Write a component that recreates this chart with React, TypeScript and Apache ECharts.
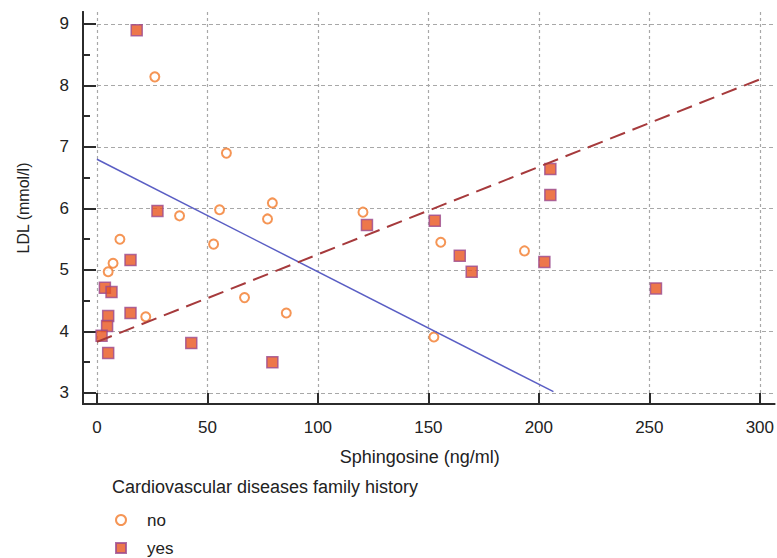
import React, { useEffect, useRef } from "react";
import * as echarts from "echarts";

// Sphingosine (ng/ml), LDL (mmol/l)
const noX = [26.2, 58.6, 10.4, 7.3, 5.1, 37.4, 55.5, 52.8, 22.1, 66.8, 79.4, 77.2, 85.7, 120.4, 155.6, 152.5, 193.5];
const noY = [8.14, 6.9, 5.5, 5.11, 4.97, 5.88, 5.98, 5.42, 4.24, 4.55, 6.09, 5.83, 4.3, 5.94, 5.45, 3.91, 5.31];

const yesX = [18.0, 27.4, 15.2, 3.6, 6.6, 15.2, 5.1, 4.6, 2.1, 5.1, 42.7, 79.4, 122.2, 152.9, 164.2, 169.6, 205.2, 205.2, 202.5, 253.0];
const yesY = [8.9, 5.96, 5.16, 4.71, 4.64, 4.3, 4.25, 4.09, 3.93, 3.65, 3.81, 3.5, 5.73, 5.8, 5.23, 4.97, 6.64, 6.22, 5.13, 4.7];

// regression lines (end points)
const noFitX = [0, 206.6];
const noFitY = [6.8, 3.02];
const yesFitX = [0, 300];
const yesFitY = [3.83, 8.1];

const xTicks = [0, 50, 100, 150, 200, 250, 300];
const yTicks = [3, 4, 5, 6, 7, 8, 9];
const yMinorTicks = [3.5, 4.5, 5.5, 6.5, 7.5, 8.5];

const categories = ["no", "yes"];
const legendTitle = "Cardiovascular diseases family history";
const xName = "Sphingosine (ng/ml)";
const yName = "LDL (mmol/l)";

const FONT = "'Liberation Sans', Arial, sans-serif";

export default function App() {
  const ref = useRef<HTMLDivElement>(null);
  useEffect(() => {
    if (!ref.current) return;
    const chart = echarts.init(ref.current, null, { renderer: "svg" });
    const zip = (xs: number[], ys: number[]) => xs.map((x, i) => [x, ys[i]]);
    const axisLineStyle = { color: "#2b2b2b", width: 2 };
    const gridRect = { left: 83, right: 0, top: 12, bottom: 154, containLabel: false };
    const X_MIN = -6.3, X_MAX = 306.7, Y_MIN = 2.82, Y_MAX = 9.195;
    chart.setOption({
      animation: false,
      backgroundColor: "#fff",
      textStyle: { fontFamily: FONT },
      title: {
        text: legendTitle,
        left: 112,
        top: 478,
        padding: 0,
        textStyle: { fontFamily: FONT, fontSize: 18, fontWeight: "normal", color: "#222" },
      },
      legend: {
        data: categories,
        orient: "vertical",
        left: 115,
        top: 510,
        padding: 0,
        itemWidth: 10,
        itemHeight: 10,
        itemGap: 8,
        textStyle: { fontFamily: FONT, fontSize: 17, color: "#222", lineHeight: 20, padding: [0, 0, 0, 16] },
      },
      grid: [gridRect, { ...gridRect }],
      xAxis: [
        {
          type: "value",
          gridIndex: 0,
          min: X_MIN,
          max: X_MAX,
          name: xName,
          nameLocation: "middle",
          nameGap: 44,
          nameTextStyle: { fontFamily: FONT, fontSize: 18, color: "#222", padding: [0, 18, 0, 0] },
          axisLine: { show: true, onZero: false, lineStyle: axisLineStyle },
          axisTick: { show: true, inside: true, length: 11, customValues: xTicks, lineStyle: axisLineStyle },
          axisLabel: { customValues: xTicks, fontFamily: FONT, fontSize: 17, color: "#222", margin: 15 },
          splitLine: { show: true, lineStyle: { color: "#a8a8a8", width: 1.2, type: [3, 3] } },
        },
        {
          type: "value",
          gridIndex: 1,
          min: X_MIN,
          max: X_MAX,
          show: false,
        },
      ],
      yAxis: [
        {
          type: "value",
          gridIndex: 0,
          min: Y_MIN,
          max: Y_MAX,
          position: "left",
          name: yName,
          nameLocation: "middle",
          nameGap: 52,
          nameTextStyle: { fontFamily: FONT, fontSize: 16, color: "#222" },
          axisLine: { show: true, onZero: false, lineStyle: axisLineStyle },
          axisTick: { show: true, inside: true, length: 13, customValues: yTicks, lineStyle: axisLineStyle },
          axisLabel: { customValues: yTicks, fontFamily: FONT, fontSize: 17, color: "#222", margin: 14 },
          splitLine: { show: true, lineStyle: { color: "#a8a8a8", width: 1.2, type: [4, 3] } },
        },
        {
          // minor ticks on an identical overlaid grid
          type: "value",
          gridIndex: 1,
          min: Y_MIN,
          max: Y_MAX,
          position: "left",
          axisLine: { show: true, onZero: false, lineStyle: axisLineStyle },
          axisTick: { show: true, inside: true, length: 7, customValues: yMinorTicks, lineStyle: axisLineStyle },
          axisLabel: { show: false },
          splitLine: { show: false },
        },
      ],
      series: [
        {
          name: "noFit",
          type: "line",
          data: zip(noFitX, noFitY),
          showSymbol: false,
          symbol: "none",
          lineStyle: { color: "#5a5ec4", width: 1.5 },
          silent: true,
        },
        {
          name: "yesFit",
          type: "line",
          data: zip(yesFitX, yesFitY),
          showSymbol: false,
          symbol: "none",
          lineStyle: { color: "#a63a3c", width: 2, type: [16, 8] },
          silent: true,
        },
        {
          name: "no",
          type: "scatter",
          data: zip(noX, noY),
          symbol: "circle",
          symbolSize: 9,
          itemStyle: { color: "#ffffff", borderColor: "#f37b2a", borderWidth: 2 },
        },
        {
          name: "yes",
          type: "scatter",
          data: zip(yesX, yesY),
          symbol: "rect",
          symbolSize: 11,
          itemStyle: { color: "#e9551e", borderColor: "#9b4a8f", borderWidth: 1.5 },
        },
      ],
    });
    return () => chart.dispose();
  }, []);
  return (
    <div
      ref={ref}
      style={{ position: "fixed", left: 0, top: 0, width: 777, height: 558, background: "#fff" }}
    />
  );
}
